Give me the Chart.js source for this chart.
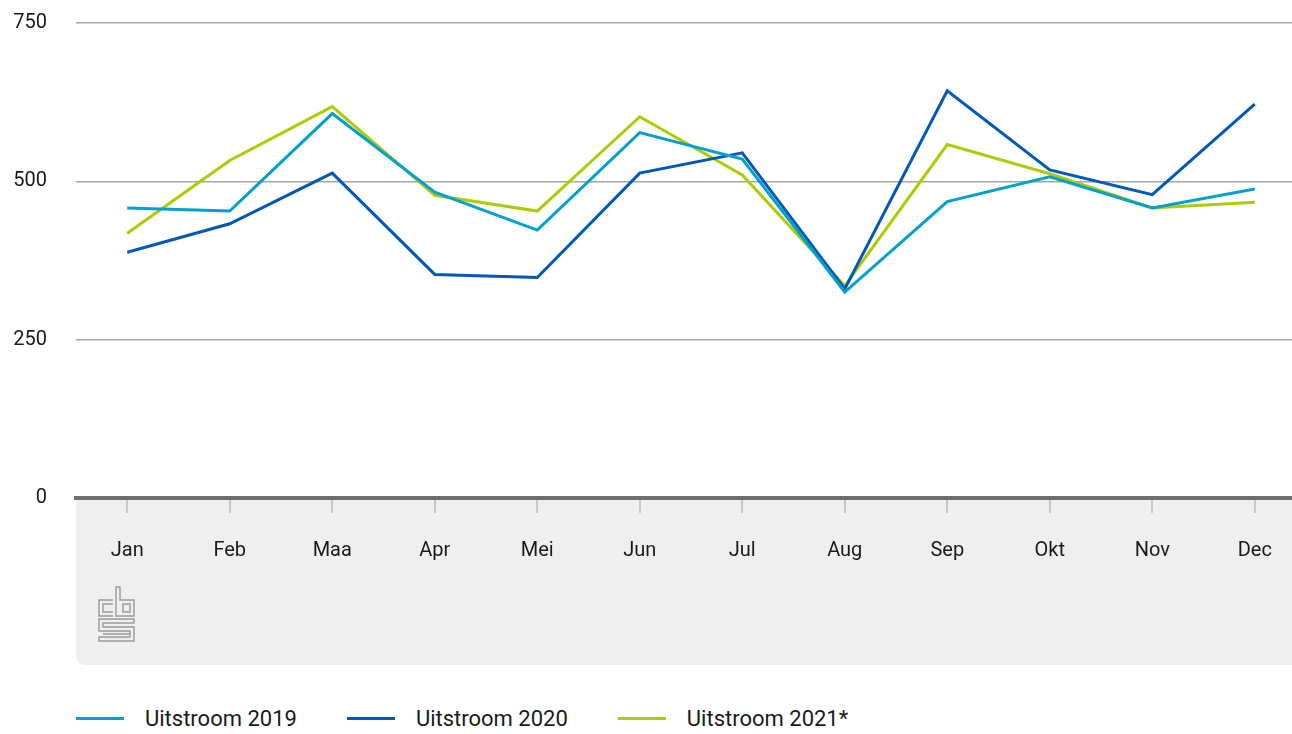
<!DOCTYPE html>
<html>
<head>
<meta charset="utf-8">
<script src="https://cdn.jsdelivr.net/npm/chart.js@4"></script>
<style>
  html, body { margin: 0; padding: 0; background: #fff; }
  body { width: 1292px; height: 734px; position: relative; overflow: hidden; font-family: Roboto, sans-serif; }
  #wrap { position: absolute; left: 0; top: -18px; width: 1306px; height: 683px; }
  #legend { position: absolute; left: 76px; top: 706px; display: flex; align-items: center; font-size: 22px; color: #1a1a1a; }
  #legend .item { display: flex; align-items: center; }
  #legend .swatch { width: 48px; height: 3px; margin-right: 21px; }
</style>
</head>
<body>
<div id="wrap"><canvas id="chart"></canvas></div>
<div id="legend"></div>
<script>
    // Data
    var months = ["Jan", "Feb", "Maa", "Apr", "Mei", "Jun", "Jul", "Aug", "Sep", "Okt", "Nov", "Dec"];
    var uitstroom2019 = [458, 453, 607, 483, 423, 577, 535, 325, 468, 507, 458, 488];
    var uitstroom2020 = [388, 433, 513, 353, 348, 513, 545, 330, 643, 518, 479, 622];
    var uitstroom2021 = [418, 533, 618, 478, 453, 602, 510, 335, 558, 512, 458, 467];
    var yTicks = [0, 250, 500, 750];
    var seriesNames = ["Uitstroom 2019", "Uitstroom 2020", "Uitstroom 2021*"];
    var seriesColors = ["#00a1cd", "#0058b8", "#afcb05"];

    Chart.defaults.font.family = "Roboto, sans-serif";
    Chart.defaults.color = "#1a1a1a";

    // grey panel under the x axis + cbs logo
    var panelPlugin = {
        id: "panel",
        beforeDraw: function (chart) {
            var ctx = chart.ctx;
            var a = chart.chartArea;
            var bottom = chart.height;
            var r = 10;
            ctx.save();
            ctx.fillStyle = "#efefef";
            ctx.beginPath();
            ctx.moveTo(a.left, a.bottom);
            ctx.lineTo(a.right, a.bottom);
            ctx.lineTo(a.right, bottom);
            ctx.lineTo(a.left + r, bottom);
            ctx.quadraticCurveTo(a.left, bottom, a.left, bottom - r);
            ctx.closePath();
            ctx.fill();
            ctx.restore();
        },
        afterDraw: function (chart) {
            var ctx = chart.ctx;
            var x = chart.chartArea.left + 23, y = 605;
            ctx.save();
            ctx.strokeStyle = "#9a9a9a";
            ctx.lineWidth = 1.4;
            ctx.beginPath();
            // c
            ctx.moveTo(x + 14, y + 13); ctx.lineTo(x, y + 13); ctx.lineTo(x, y + 29); ctx.lineTo(x + 14, y + 29);
            ctx.moveTo(x + 14, y + 17); ctx.lineTo(x + 4, y + 17); ctx.lineTo(x + 4, y + 25); ctx.lineTo(x + 14, y + 25);
            // b
            ctx.moveTo(x + 17, y + 29); ctx.lineTo(x + 17, y); ctx.lineTo(x + 21, y); ctx.lineTo(x + 21, y + 13);
            ctx.lineTo(x + 35, y + 13); ctx.lineTo(x + 35, y + 29); ctx.closePath();
            ctx.rect(x + 24, y + 17, 7, 8);
            // s
            ctx.moveTo(x, y + 32); ctx.lineTo(x + 35, y + 32); ctx.lineTo(x + 35, y + 36); ctx.lineTo(x + 4, y + 36);
            ctx.lineTo(x + 4, y + 40); ctx.lineTo(x + 35, y + 40); ctx.lineTo(x + 35, y + 54); ctx.lineTo(x, y + 54);
            ctx.lineTo(x, y + 50); ctx.lineTo(x + 31, y + 50); ctx.lineTo(x + 31, y + 44); ctx.lineTo(x, y + 44);
            ctx.closePath();
            ctx.moveTo(x + 4, y + 47); ctx.lineTo(x + 31, y + 47);
            ctx.stroke();
            ctx.restore();
        }
    };

    var values = [uitstroom2019, uitstroom2020, uitstroom2021];
    var datasets = values.map(function (v, i) {
        return {
            label: seriesNames[i],
            data: v,
            borderColor: seriesColors[i],
            backgroundColor: seriesColors[i],
            borderWidth: 3,
            pointRadius: 0,
            tension: 0,
            fill: false
        };
    });

    var ctx = document.getElementById("chart").getContext("2d");
    var myChart = new Chart(ctx, {
        type: "line",
        data: { labels: months, datasets: datasets },
        options: {
            responsive: true,
            maintainAspectRatio: false,
            animation: false,
            layout: { padding: { top: 12, right: 0, bottom: 76, left: 0 } },
            plugins: {
                legend: { display: false },
                tooltip: { enabled: false }
            },
            scales: {
                x: {
                    offset: true,
                    border: { display: true, color: "#6e6e6e", width: 4, z: 1 },
                    grid: {
                        drawOnChartArea: false,
                        drawTicks: true,
                        tickLength: 15,
                        color: "#c8c8c8",
                        lineWidth: 2,
                        offset: false
                    },
                    ticks: { padding: 26, font: { size: 20 }, color: "#1a1a1a", maxRotation: 0 }
                },
                y: {
                    min: 0,
                    max: 750,
                    afterBuildTicks: function (scale) {
                        scale.ticks = yTicks.map(function (v) { return { value: v }; });
                    },
                    afterFit: function (scale) { scale.width = 76; },
                    border: { display: false },
                    grid: { color: "#a6a6a6", lineWidth: 1.5, drawTicks: false },
                    ticks: { padding: 29, font: { size: 20 }, color: "#1a1a1a" }
                }
            }
        },
        plugins: [panelPlugin]
    });

    // legend
    var legend = document.getElementById("legend");
    seriesNames.forEach(function (name, i) {
        var item = document.createElement("div");
        item.className = "item";
        item.style.marginRight = i < seriesNames.length - 1 ? "50px" : "0";
        var sw = document.createElement("div");
        sw.className = "swatch";
        sw.style.background = seriesColors[i];
        var txt = document.createElement("span");
        txt.textContent = name;
        item.appendChild(sw);
        item.appendChild(txt);
        legend.appendChild(item);
    });
</script>
</body>
</html>
